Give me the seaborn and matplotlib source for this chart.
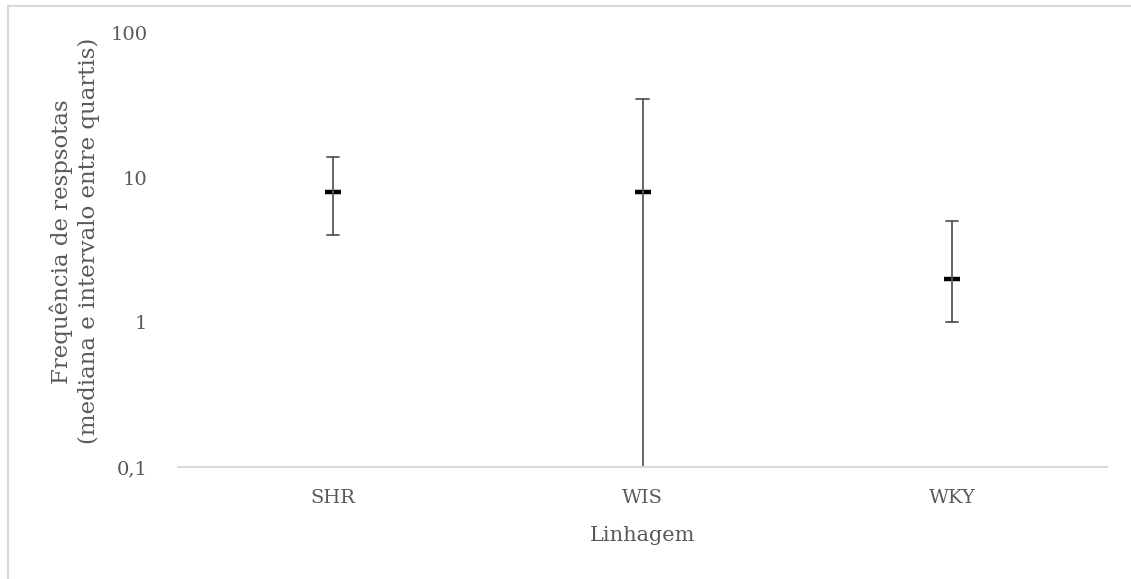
import numpy as np
import pandas as pd
import matplotlib
matplotlib.use("Agg")
import matplotlib.pyplot as plt
from matplotlib.lines import Line2D
import seaborn as sns

# Data: median and interquartile range per strain
categories = ["SHR", "WIS", "WKY"]
q1_values = [4, 0.1, 1]
median_values = [8, 8, 2]
q3_values = [14, 35, 5]
ytick_values = [0.1, 1, 10, 100]
ytick_labels = ["0,1", "1", "10", "100"]

rows = []
for c, lo, md, hi in zip(categories, q1_values, median_values, q3_values):
    for v in (lo, md, hi):
        rows.append({"Linhagem": c, "valor": v})
df = pd.DataFrame(rows)

sns.set_theme(style="white")
plt.rcParams["font.family"] = ["DejaVu Serif"]

text_color = "#595959"
fig = plt.figure(figsize=(11.31, 5.79), dpi=100)
ax = fig.add_axes([178 / 1131, 1 - 467 / 579, (1107 - 178) / 1131, (467 - 33) / 579])
ax.set_yscale("log")

sns.pointplot(
    data=df, x="Linhagem", y="valor", order=categories,
    estimator=np.median, errorbar=lambda x: (np.min(x), np.max(x)),
    color=text_color, linestyle="none", marker="_", markersize=12,
    markeredgewidth=3.2, markeredgecolor="black", markerfacecolor="black",
    capsize=0.04, err_kws={"linewidth": 1.3, "color": text_color},
    ax=ax,
)

ax.set_ylim(0.1, 100)
ax.set_xlim(-0.5, 2.5)
ax.set_yticks(ytick_values)
ax.set_yticklabels(ytick_labels)
ax.yaxis.set_minor_locator(matplotlib.ticker.NullLocator())
ax.tick_params(axis="y", length=0, pad=22, labelsize=14, labelcolor=text_color)
ax.tick_params(axis="x", length=0, pad=15.5, labelsize=14, labelcolor=text_color)

for s in ("top", "right", "left"):
    ax.spines[s].set_visible(False)
ax.spines["bottom"].set_color("#d9d9d9")
ax.spines["bottom"].set_linewidth(1.5)
ax.grid(False)

ax.set_xlabel("Linhagem", fontsize=15, color=text_color, labelpad=14)
ax.set_ylabel("Frequência de respsotas\n(mediana e intervalo entre quartis)",
              fontsize=16.5, color=text_color, linespacing=1.3)
ax.yaxis.set_label_coords(-0.084, 0.52)

# outer chart border (only left and top edges fall inside the image)
bx, by = 8 / 1131, 1 - 5.5 / 579
fig.add_artist(Line2D([bx, 1.0], [by, by], transform=fig.transFigure,
                      color="#d9d9d9", linewidth=1.5))
fig.add_artist(Line2D([bx, bx], [0.0, by], transform=fig.transFigure,
                      color="#d9d9d9", linewidth=1.5))

fig.savefig("out.png", dpi=100)
